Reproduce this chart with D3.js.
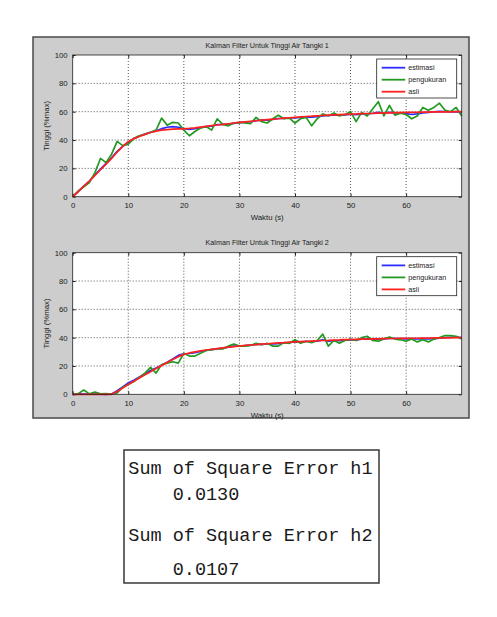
<!DOCTYPE html>
<html><head><meta charset="utf-8">
<script src="https://cdn.jsdelivr.net/npm/d3@7"></script>
<style>body{margin:0;background:#fff;}svg{display:block;}</style>
</head><body>
<script>
// ---- data ----
const time = d3.range(0, 71, 1);
const xTicks = [0,10,20,30,40,50,60];
const yTicks = [0,20,40,60,80,100];
const legendLabels = ["estimasi","pengukuran","asli"];
const titles = ["Kalman Filter Untuk Tinggi Air Tangki 1","Kalman Filter Untuk Tinggi Air Tangki 2"];
const xLabel = "Waktu (s)";
const yLabel = "Tinggi (%max)";

const est1 = [0,3.8,7.5,11,15.5,19.5,23.5,27.5,32,35.5,38.5,41,42.8,44.2,45.5,46.5,48,49,49.5,49,48,47.5,48,48.8,49.5,49.8,50.8,51,51.3,51.8,52.3,52.6,52.9,53.7,54,54.1,54.5,55.2,55.3,55.6,55.6,55.9,56.3,56.2,56.5,57.1,57.3,57.6,57.6,57.8,58.2,57.9,58.4,58.4,58.9,59.5,59,59.5,59.2,59.2,58.6,58,58.4,59.2,59.5,59.8,60.2,60,59.9,60.1,59.7];
const meas1 = [0,4,7,10,17,27,24,30,39,36,37,41,43,44,45.5,47,55.5,50.5,52.5,52,47,43,46,48.5,49.5,47,55,51,50,52,52.5,52,51.5,56,53,52,55,57.5,55,55.5,52,55,56,50,55,58.5,57,59,57,58,60,53,59.5,57,62,67,57,64.5,57.5,59,58,55,57,63,61,63,66,61,60,63,57];
const true1 = [0,3.5,7.5,11,15,19,23,27,31.5,35.5,38.8,41,42.5,44,45.3,46.3,47,47.4,47.7,47.8,47.9,48.2,48.6,49.1,49.6,50.1,50.6,51,51.5,52,52.4,52.8,53.2,53.6,54,54.4,54.7,55,55.4,55.7,56,56.3,56.6,56.8,57.1,57.3,57.5,57.7,57.9,58.1,58.3,58.4,58.6,58.7,58.8,59,59.1,59.2,59.3,59.4,59.5,59.5,59.6,59.7,59.7,59.8,59.8,59.9,59.9,60,60];

const est2 = [0,0.3,0.2,0.2,0.1,0.1,0,0.2,2.5,5.2,8,10,12.3,14.5,16.8,18.5,20.6,22.7,25,27.5,28.6,28.8,29.4,30.2,31,31.6,32.1,32.6,33.3,34,34.2,34.4,34.7,35.2,35.3,35.6,35.6,35.8,36.3,36.5,37.2,37,37.3,37.3,37.6,38.4,37.6,37.9,37.8,38.2,38.5,38.5,38.9,39.2,39,38.9,39.1,39.5,39.4,39.3,39.2,39.3,39.2,39.3,39.1,39.3,39.6,40,40.3,40.4,40.1];
const meas2 = [0,0.5,3,0.3,1.5,0.3,0.5,0.2,1,5,7,9,12,15,19,15,21,22,23,22,29,27,27,29,31,31.5,32,32,34,35.5,34,34,34.5,36,35,36,34,34,36.5,36,38.5,36,37.5,36.5,38,42.5,34,38,36,38,39,38,40,41,38,37.5,39,40.5,39,38.5,37.5,39,37,38.5,37,39,40,41.5,41.5,41,39];
const true2 = [0,0,0,0,0,0,0,0,2,4.5,7,9.2,11.5,13.8,16,18.2,20.4,22.5,24.6,26.6,28.2,29.2,30,30.7,31.3,31.8,32.3,32.8,33.3,33.7,34.1,34.5,34.8,35.1,35.4,35.7,36,36.3,36.5,36.8,37,37.2,37.4,37.6,37.8,38,38.1,38.3,38.4,38.6,38.7,38.8,38.9,39,39.1,39.2,39.3,39.4,39.4,39.5,39.5,39.6,39.6,39.7,39.7,39.8,39.8,39.9,39.9,40,40];

const sseLines = ["Sum of Square Error h1","    0.0130","Sum of Square Error h2","    0.0107"];

// ---- drawing ----
const W = 497, H = 617;
const svg = d3.select("body").append("svg").attr("width", W).attr("height", H);
const colors = ["#2c2cff", "#229a22", "#ff2020"];
const font = "'Liberation Sans', Arial, sans-serif";

// figure background
svg.append("rect").attr("x", 33).attr("y", 37).attr("width", 436).attr("height", 381)
  .attr("fill", "#cdcdcd").attr("stroke", "#4a4a4a").attr("stroke-width", 1.5);

const L = 72.7, R = 461.7;
const x = d3.scaleLinear().domain([0, 70]).range([L, R]);

function panel(top, bottom, title, series) {
  const y = d3.scaleLinear().domain([0, 100]).range([bottom, top]);
  const g = svg.append("g");
  g.append("rect").attr("x", L).attr("y", top).attr("width", R - L).attr("height", bottom - top).attr("fill", "#fff");
  // grid
  g.selectAll(".gx").data(xTicks.filter(d => d > 0)).enter().append("line")
    .attr("x1", d => x(d)).attr("x2", d => x(d)).attr("y1", top).attr("y2", bottom)
    .attr("stroke", "#444").attr("stroke-width", 0.9).attr("stroke-dasharray", "1,2");
  g.selectAll(".gy").data(yTicks.filter(d => d > 0 && d < 100)).enter().append("line")
    .attr("y1", d => y(d)).attr("y2", d => y(d)).attr("x1", L).attr("x2", R)
    .attr("stroke", "#444").attr("stroke-width", 0.9).attr("stroke-dasharray", "1,2");
  // axes with inward ticks
  const ax = g.append("g").attr("transform", `translate(0,${bottom})`)
    .call(d3.axisBottom(x).tickValues(xTicks).tickSize(-3).tickPadding(6).tickFormat(d3.format("d")));
  const ay = g.append("g").attr("transform", `translate(${L},0)`)
    .call(d3.axisLeft(y).tickValues(yTicks).tickSize(-3).tickPadding(5).tickFormat(d3.format("d")));
  const axT = g.append("g").attr("transform", `translate(0,${top})`)
    .call(d3.axisTop(x).tickValues(xTicks).tickSize(-3).tickFormat(""));
  const ayR = g.append("g").attr("transform", `translate(${R},0)`)
    .call(d3.axisRight(y).tickValues(yTicks).tickSize(-3).tickFormat(""));
  [ax, ay, axT, ayR].forEach(a => {
    a.select(".domain").remove();
    a.selectAll("line").attr("stroke", "#222");
    a.selectAll("text").attr("font-family", font).attr("font-size", "7.8px").attr("fill", "#222");
  });
  // lines
  const line = d3.line().x((d, i) => x(time[i])).y(d => y(d));
  series.forEach((s, k) => {
    g.append("path").datum(s).attr("d", line).attr("fill", "none")
      .attr("stroke", colors[k]).attr("stroke-width", 1.7).attr("stroke-linejoin", "round");
  });
  // box
  g.append("rect").attr("x", L).attr("y", top).attr("width", R - L).attr("height", bottom - top)
    .attr("fill", "none").attr("stroke", "#222").attr("stroke-width", 0.8);
  // title & labels
  g.append("text").attr("x", (L + R) / 2).attr("y", top - 7.5).attr("text-anchor", "middle")
    .attr("font-family", font).attr("font-size", "7.2px").attr("fill", "#222").text(title);
  g.append("text").attr("x", (L + R) / 2).attr("y", bottom + 23.5).attr("text-anchor", "middle")
    .attr("font-family", font).attr("font-size", "7.8px").attr("fill", "#222").text(xLabel);
  g.append("text").attr("transform", `translate(49,${(top + bottom) / 2}) rotate(-90)`).attr("text-anchor", "middle")
    .attr("font-family", font).attr("font-size", "7.8px").attr("fill", "#222").text(yLabel);
  // legend
  const lx = 376.7, ly = top + 4, lw = 80, lh = 39;
  const lg = g.append("g");
  lg.append("rect").attr("x", lx).attr("y", ly).attr("width", lw).attr("height", lh)
    .attr("fill", "#fff").attr("stroke", "#222").attr("stroke-width", 0.8);
  legendLabels.forEach((lab, k) => {
    const yy = ly + 8.7 + k * 12;
    lg.append("line").attr("x1", lx + 5).attr("x2", lx + 28.5).attr("y1", yy).attr("y2", yy)
      .attr("stroke", colors[k]).attr("stroke-width", 1.8);
    lg.append("text").attr("x", lx + 31.5).attr("y", yy + 2.6).attr("font-family", font)
      .attr("font-size", "7.2px").attr("fill", "#222").text(lab);
  });
}

panel(55, 196.7, titles[0], [est1, meas1, true1]);
panel(252.7, 394.3, titles[1], [est2, meas2, true2]);

// SSE text box
svg.append("rect").attr("x", 124).attr("y", 450).attr("width", 255).attr("height", 133)
  .attr("fill", "#fff").attr("stroke", "#444").attr("stroke-width", 1.6);
const baselines = [474, 499.5, 541, 575];
sseLines.forEach((t, i) => {
  svg.append("text").attr("x", 128.3).attr("y", baselines[i])
    .attr("font-family", "'Liberation Mono', 'Courier New', monospace").attr("font-size", "18.5px")
    .attr("fill", "#1a1a1a").attr("xml:space", "preserve").style("white-space", "pre").text(t);
});
</script>
</body></html>
